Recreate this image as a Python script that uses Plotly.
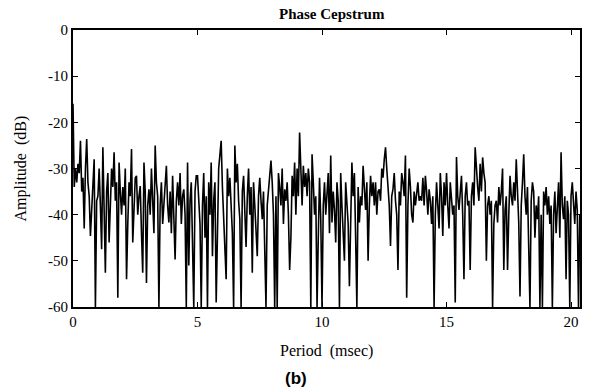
import plotly.graph_objects as go

# Period step (msec) between samples of the phase cepstrum
step_ms = 0.05

# Amplitude (dB), one row per millisecond (20 samples each)
row_00 = [-16, -34, -30, -33, -29, -31, -24, -35, -32, -43, -30, -23.6, -33, -36, -44.6, -38, -32, -28, -60, -37]
row_01 = [-36, -30, -38, -47.5, -25.4, -40, -52.6, -35, -31, -46, -38, -30, -34, -26.5, -37, -33, -58, -28.7, -35, -40]
row_02 = [-34, -38, -30, -54, -42, -33, -36, -25.8, -46, -38, -32, -31.6, -40, -36, -33.8, -44, -52.6, -28.7, -35, -54.8]
row_03 = [-38, -34.5, -40, -30, -36, -44, -25, -33, -36, -60, -38, -33, -42, -37, -34, -29.4, -38, -41.7, -35, -44]
row_04 = [-31.6, -40, -49.7, -37, -33, -38, -31, -42, -36, -34.5, -40, -60, -28.7, -51, -37, -33, -44, -60, -35, -31.6]
row_05 = [-31.6, -36, -42, -60, -38, -31, -45, -36, -60, -33, -40, -28.7, -49, -37, -33, -59, -41, -30, -27, -24]
row_06 = [-34, -42, -50, -54, -30, -36, -32, -40, -44, -60, -25, -33, -29, -37, -41, -60, -35, -31.6, -38, -47]
row_07 = [-36, -30, -40, -34, -52.6, -33, -38, -44, -49, -36, -32, -37, -41, -35, -46, -60, -38, -34.5, -31, -28.3]
row_08 = [-33, -40, -60, -36, -60, -31, -34, -38, -30, -42, -34.5, -37, -33, -40, -52, -45, -31.6, -36, -28.7, -40]
row_09 = [-30, -36, -22.2, -32, -38, -29.4, -34, -31, -36, -30, -33, -60, -26.9, -33, -40, -36, -60, -45, -32, -41]
row_10 = [-60, -38, -33, -40, -36, -31, -44, -27.2, -41.7, -35, -39, -46, -33, -37, -60, -31, -38, -44, -50, -33]
row_11 = [-37, -42, -55.5, -40, -28.7, -36, -31, -45, -60, -34, -41.7, -36, -38, -29.4, -35, -39, -33, -50, -38, -31.6]
row_12 = [-36, -33, -38, -33, -40, -35, -34.5, -37, -30, -32, -28, -25.4, -30, -35, -38, -46.8, -36, -34.5, -31, -37]
row_13 = [-40, -52, -35, -38, -31, -33, -36, -27.2, -58, -38, -30, -34, -40, -41.7, -35, -38, -34.5, -33, -37, -36]
row_14 = [-37, -32, -38, -31.6, -35, -40, -34.5, -37, -42, -36, -60, -40, -33, -38, -43, -31, -36, -44.6, -33, -38]
row_15 = [-31, -38, -43, -33, -36, -40, -38, -59, -27.5, -36, -39, -34, -31.6, -40, -54, -36, -33, -38, -37, -52]
row_16 = [-36, -33, -38, -25.4, -31, -34, -37, -29, -35, -27.6, -31, -33, -50, -38, -36, -40, -37, -60, -42, -38]
row_17 = [-37, -41.7, -34, -38, -35, -30, -52, -39, -36, -52, -40, -31.6, -36, -38, -33, -37, -28, -35, -41.7, -57.7]
row_18 = [-38, -33, -26.9, -36, -40, -34, -44, -60, -37, -33, -35, -45, -38, -41, -36, -60, -40, -60, -35, -38]
row_19 = [-34, -40, -36, -42, -38, -60, -40, -35, -44, -37, -33, -45, -26.5, -38, -41, -36, -54, -37, -40, -60]
row_20 = [-36, -33, -38, -42, -35, -39, -60, -40]

amplitude_db = (row_00 + row_01 + row_02 + row_03 + row_04 + row_05 + row_06 + row_07
                + row_08 + row_09 + row_10 + row_11 + row_12 + row_13 + row_14
                + row_15 + row_16 + row_17 + row_18 + row_19 + row_20)
period_ms = [round(i * step_ms, 3) for i in range(len(amplitude_db))]

x_ticks = [0, 5, 10, 15, 20]
y_ticks = [0, -10, -20, -30, -40, -50, -60]

serif = "Liberation Serif, Times New Roman, serif"

fig = go.Figure()
fig.add_trace(go.Scatter(x=period_ms, y=amplitude_db, mode="lines",
                         line=dict(color="black", width=1.6), showlegend=False,
                         hoverinfo="skip"))

axis_common = dict(showline=True, linecolor="black", linewidth=1.8, mirror="ticks",
                   ticks="inside", ticklen=5, tickwidth=1.3, tickcolor="black",
                   showgrid=False, zeroline=False,
                   tickfont=dict(family=serif, size=15, color="black"))

fig.update_xaxes(range=[0, 20.36], tickvals=x_ticks, ticktext=[str(v) for v in x_ticks], **axis_common)
fig.update_yaxes(range=[-60, 0], tickvals=y_ticks, ticktext=[str(v) for v in y_ticks], **axis_common)

fig.update_layout(
    width=589, height=391,
    margin=dict(l=73, r=7, t=30, b=84),
    paper_bgcolor="white", plot_bgcolor="white",
    annotations=[
        dict(text="<b>Phase Cepstrum</b>", xref="paper", yref="paper", x=0.51, y=1.0,
             yshift=6, xanchor="center", yanchor="bottom", showarrow=False,
             font=dict(family=serif, size=15, color="black")),
        dict(text="Period  (msec)", xref="paper", yref="paper", x=0.5, y=0,
             yshift=-33, xanchor="center", yanchor="top", showarrow=False,
             font=dict(family=serif, size=16, color="black")),
        dict(text="Amplitude  (dB)", xref="paper", yref="paper", x=0, y=0.5,
             xshift=-53, xanchor="center", yanchor="middle", textangle=-90,
             showarrow=False, font=dict(family=serif, size=16, color="black")),
        dict(text="<b>(b)</b>", xref="paper", yref="paper", x=0.44, y=0,
             yshift=-60, xanchor="center", yanchor="top", showarrow=False,
             font=dict(family="Liberation Sans, Arial, sans-serif", size=17, color="black")),
    ],
)

fig.write_html("out.html")
